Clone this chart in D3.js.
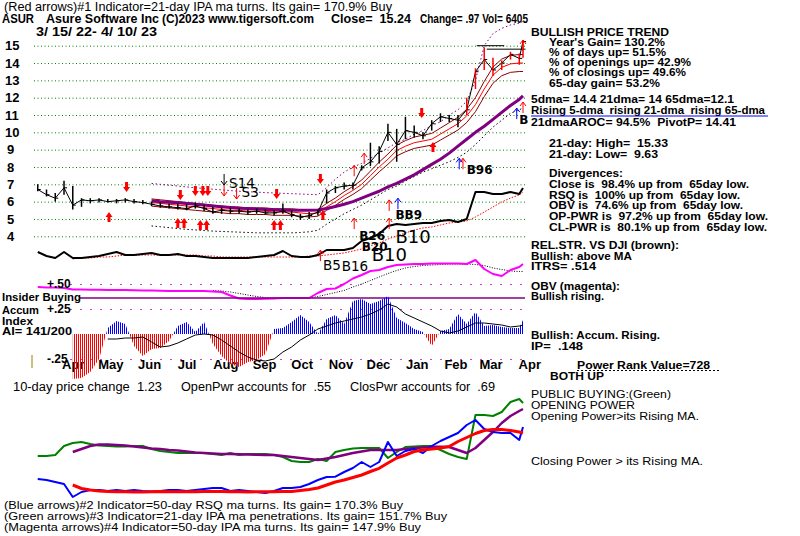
<!DOCTYPE html>
<html>
<head>
<meta charset="utf-8">
<title>ASUR - Asure Software Inc</title>
<script src="https://cdnjs.cloudflare.com/ajax/libs/d3/7.8.5/d3.min.js"></script>
<style>
  body { margin: 0; background: #fff; }
  svg { display: block; }
  text { white-space: pre; }
</style>
</head>
<body>
<script>
// ---- data (weekly samples, 3/18/22 .. 4/10/23) ----
const weekDates = d3.timeDay.range(new Date(2022, 2, 18), new Date(2023, 3, 8), 7);
weekDates.push(new Date(2023, 3, 10));

const priceClose = [6.7,6.4,6.2,6.8,5.8,6.1,6.05,6.1,6.0,6.05, 6.1,6.0,5.95,5.85,5.75,5.7,5.65,5.6,5.75,5.6,
  5.4,5.5,5.45,5.45,5.4,5.45,5.35,5.35,5.45,5.25, 5.1,5.2,5.4,6.5,6.8,6.9,6.95,7.95,8.3,8.9,
  10.0,9.3,10.1,10.0,9.8,10.5,10.9,10.8,10.7,11.3, 13.5,14.2,13.6,14.0,14.5,14.27,15.24];
const priceHigh = [7.0,6.7,6.5,7.2,6.9,6.2,6.2,6.2,6.15,6.15, 6.2,6.15,6.1,6.0,5.95,5.9,5.9,5.85,5.95,5.8,
  5.7,5.65,5.65,5.6,5.55,5.6,5.55,5.5,5.9,5.5, 5.3,5.4,5.5,6.7,6.9,7.1,7.1,8.1,9.4,9.2,
  10.5,10.2,10.9,10.4,10.0,10.7,11.1,11.0,11.0,12.0, 13.7,14.9,14.3,14.15,14.65,14.55,15.33];
const priceLow = [6.6,6.3,6.0,6.4,5.55,5.7,5.9,5.95,5.95,5.9, 5.95,5.9,5.85,5.75,5.65,5.6,5.55,5.5,5.6,5.45,
  5.3,5.3,5.3,5.3,5.25,5.3,5.25,5.2,5.3,5.1, 4.95,5.0,5.2,5.9,6.5,6.7,6.7,7.8,8.05,8.2,
  9.5,8.3,9.6,9.7,9.6,10.1,10.6,10.6,10.3,11.0, 12.5,13.6,13.25,13.6,14.2,13.9,14.3];

// moving averages / bands, starting at week 13
const ma21 = [5.95,5.9,5.85,5.8,5.75,5.7,5.65,5.6,5.55,5.5, 5.5,5.45,5.45,5.45,5.4,5.4,5.4,5.35,5.3,5.35,
  5.7,6.0,6.35,6.65,7.0,7.5,8.0,8.45,8.95,9.2, 9.4,9.5,9.6,9.9,10.2,10.5,10.95,11.6,12.5,13.3, 13.75,13.95,14.0,14.0];
const ma65 = [6.05,6.0,5.97,5.93,5.9,5.85,5.8,5.75,5.7,5.66, 5.62,5.6,5.58,5.55,5.53,5.52,5.5,5.5,5.5,5.52,
  5.6,5.72,5.85,6.0,6.2,6.4,6.6,6.85,7.05,7.3, 7.55,7.85,8.15,8.45,8.8,9.2,9.6,10.0,10.35,10.75, 11.15,11.55,11.9,12.1];
const bandUpper = [7.05,7.0,6.95,6.9,6.85,6.8,6.76,6.72,6.68,6.64, 6.6,6.57,6.55,6.52,6.5,6.48,6.46,6.44,6.42,6.4,
  6.8,7.3,7.7,8.0,8.2,8.5,8.8,9.1,9.4,9.6, 9.9,10.1,10.4,10.6,11.0,11.3,11.8,13.0,15.0,15.7, 16.0,16.2,16.3,16.4];
const bandLower = [4.6,4.55,4.5,4.45,4.4,4.37,4.33,4.3,4.28,4.26, 4.24,4.22,4.2,4.2,4.2,4.2,4.2,4.22,4.26,4.35,
  4.7,5.0,5.3,5.55,5.8,6.1,6.4,6.7,6.9,7.2, 7.45,7.7,7.9,8.1,8.3,8.55,8.85,9.3,9.8,10.3, 10.7,11.1,11.3,11.4];
const MA21_BAND = 0.035; // 21-dma envelope width

// relative strength vs DJI (from week 0) and its MA (from week 4)
const relStr = [0.83,0.79,0.77,0.83,0.77,0.77,0.78,0.79,0.81,0.83, 0.80,0.80,0.81,0.82,0.80,0.80,0.81,0.79,0.79,0.78,
  0.77,0.77,0.77,0.77,0.77,0.78,0.79,0.80,0.84,0.79, 0.78,0.78,0.80,0.85,0.85,0.85,0.87,0.94,0.97,1.01,
  1.09,1.11,1.10,1.11,1.12,1.12,1.14,1.15,1.13,1.16, 1.43,1.43,1.41,1.41,1.43,1.41,1.47];
const relStrMA = [0.76,0.77,0.77,0.78,0.78,0.79, 0.80,0.80,0.80,0.80,0.80,0.80,0.80,0.80,0.80,0.79,
  0.79,0.78,0.78,0.78,0.78,0.78,0.78,0.78,0.78,0.78, 0.78,0.79,0.79,0.80,0.81,0.82,0.84,0.86,0.89,0.92,
  0.96,0.99,1.02,1.05,1.07,1.08,1.10,1.12,1.13,1.14, 1.18,1.23,1.28,1.33,1.37,1.40,1.43];

// on-balance volume (from week 0) and its MA (from week 20)
const obv = [1.3,1.25,1.25,1.2,1.05,1.05,1.03,1.03,1.0,1.0, 1.0,0.98,0.96,0.95,0.93,0.9,0.9,0.9,0.9,0.9,
  0.85,0.8,0.45,0.15,0.1,0.1,0.12,0.15,0.2,0.2, 0.2,0.2,0.7,1.1,1.15,1.6,2.15,2.5,2.9,3.0,
  3.3,3.5,3.55,3.6,3.6,3.65,3.65,3.65,3.65,3.6, 4.0,3.1,2.6,2.4,3.0,3.3,3.6];
const obvMA = [0.95,0.9,0.8,0.65,0.5,0.35,0.25,0.2,0.15,0.15, 0.15,0.2,0.35,0.55,0.75,0.95,1.3,1.6,1.95,2.3,
  2.65,2.95,3.2,3.35,3.45,3.5,3.55,3.6,3.6,3.6, 3.55,3.45,3.2,3.05,2.9,2.85,2.85];

// accumulation index (from week 4) and its MA (from week 8)
const accum = [-0.45,-0.44,-0.38,-0.25,0.06,0.13, 0.10,-0.12,-0.22,-0.15,-0.14,-0.07,0.08,0.12,0.02,0.12,
  -0.10,-0.22,-0.30,-0.33,-0.28,-0.26,-0.20,0.05,0.06,0.12, 0.19,0.12,0.0,0.15,0.19,0.10,0.33,0.35,0.30,0.33,
  0.38,0.16,0.11,0.05,0.02,-0.12,0.03,0.05,0.20,0.10, 0.22,0.08,0.09,0.07,0.06,0.06,0.14];
const accumMA = [-0.05,-0.05, -0.04,-0.04,-0.03,-0.08,-0.13,-0.12,-0.09,-0.05,-0.01,0.0,
  -0.01,-0.06,-0.12,-0.18,-0.23,-0.26,-0.27,-0.25,-0.18,-0.13, -0.06,-0.01,0.05,0.08,0.11,0.13,0.15,0.17,0.20,0.24,
  0.30,0.27,0.20,0.16,0.12,0.08,0.03,0.01,0.03,0.07, 0.11,0.11,0.10,0.09,0.07,0.08,0.09];
const aiTicks = [0.5, 0.25, -0.25];
const aiTickLabels = ["+.50", "+.25", "-.25"];
const insiderLevel = 0.36;

// opening power (green) / closing power (blue) and their MAs (from week 4)
const openPwr = [44,44,45,54,57,58,56,54.5,54,53.5, 53.5,54,54,51,49,48,47,47,47,47,
  46,45,47,45,46,46,46,45,43,39, 38,38,41,39,48,50,51.5,52,52,52, 42,48,53,53.5,54,54,50,46,43,41, 85,85,84,88,98,101,97];
const openPwrMA = [48,51,54,55.5,55.5,55, 54.5,53.5,52.5,51.5,51,50,49.5,48.5,47.5,47,
  46.5,46,46,45.7,45.5,45.3,45,45,44,43, 42,41,40,41.5,43,45,47,48.5,50,50, 50,50,51,52,52.5,53.3,53.3,53,50,47, 52,60,68,77,84,89,91];
const closePwr = [21,20,18,16,3,8,10,10,9,10, 9,10,9,8.5,9,10,10,9,10,11,
  12,12,9,10,9,8,7,9,12,12, 13,16,20,23,23.3,28,32,38,33,38, 58,44,49,51,47,54,59,63,67,75, 80,71,68,67,67,60,73];
const closePwrMA = [15,11.5,10,9,8.5,8.3, 8.2,8.0,8.1,8.3,8.4,8.3,8.2,8.2,8.3,8.4,
  8.5,8.4,8.3,8.2,8.1,8.2,8.3,8.3,8.4,8.5, 9.5,10.5,12,15,18,20,22.5,25,28.5,31.7,
  37,42,45,48.5,50,51,52,53.5,58.5,62.5, 66.5,69.5,70.5,70.5,69.5,68,67];

const priceTicks = [4,5,6,7,8,9,10,11,12,13,14,15];
const monthTicks = ["2022-04-15","2022-05-15","2022-06-15","2022-07-15","2022-08-15","2022-09-15","2022-10-15",
  "2022-11-15","2022-12-15","2023-01-15","2023-02-15","2023-03-15","2023-04-15"];

// signal arrows and labels (date, price)
const buyArrows = [["2022-05-14",5.4],["2022-07-08",5.05],["2022-07-13",5.05],["2022-07-26",4.94],["2022-07-31",4.94],
  ["2022-09-23",4.94],["2022-09-28",4.94],["2022-11-01",5.52],["2023-01-28",9.44]];
const sellArrows = [["2022-05-28",6.56],["2022-07-10",6.1],["2022-07-22",6.33],["2022-07-28",6.33],["2022-08-01",6.33],
  ["2022-09-25",6.15],["2022-10-30",7.02],["2023-01-19",10.83]];
const redUpHints = [["2022-11-26",5.05],["2022-11-26",8.1],["2022-12-04",8.8],["2022-12-24",6.1],["2022-12-24",5.05],
  ["2023-02-21",8.5],["2023-04-10",11.75],["2023-04-10",15.33],["2022-10-30",3.2]];
const redDownHints = [["2022-08-14",6.33],["2022-08-24",6.15]];
const blueUpHints = [["2022-12-31",6.2],["2023-02-18",8.5],["2023-04-05",11.4]];
const blackDownHints = [["2022-08-14",6.96]];
const smallLabels = [["2022-11-30",3.79,"B26"],["2022-12-02",3.15,"B20"],["2022-12-29",5.0,"BB9"],
  ["2023-02-24",7.6,"B96"],["2023-04-07",10.48,"B"]];
const midLabels = [["2022-08-18",6.79,"S14"],["2022-08-28",6.27,"S3"],["2022-11-01",2.06,"B5"],["2022-11-16",2.0,"B16"]];
const bigLabels = [["2022-12-10",2.58,"B10"],["2022-12-29",3.62,"B10"]];
const resistLines = [["2023-03-04","2023-03-26",15.0],["2023-03-12","2023-04-12",14.8]];

// ---- setup ----
const W = 800, H = 536;
const FONT = "'Liberation Sans', Arial, sans-serif";
const parse = d3.timeParse("%Y-%m-%d");
const redFrom = new Date(2023, 1, 24);

const svg = d3.select("body").append("svg").attr("width", W).attr("height", H)
  .attr("font-family", FONT);
svg.append("rect").attr("width", W).attr("height", H).attr("fill", "#fff");

const x = d3.scaleTime().domain([new Date(2022, 2, 15), new Date(2023, 3, 10)]).range([34, 523]);
const yP = d3.scaleLinear().domain([4, 15]).range([236.3, 45.7]);
const yRS = d3.scaleLinear().domain([0.7, 1.5]).range([265, 185]);
const yOBV = d3.scaleLinear().domain([0, 4.5]).range([300, 255]);
const yAI = d3.scaleLinear().domain([-0.5, 0.5]).range([384, 284]);
const yPow = d3.scaleLinear().domain([0, 120]).range([500, 380]);

const series = (vals, start) => vals.map((v, i) => ({ date: weekDates[start + i], v }));

function drawLine(data, yScale, color, width, dash) {
  const p = svg.append("path").datum(data)
    .attr("d", d3.line().x(d => x(d.date)).y(d => yScale(d.v)))
    .attr("fill", "none").attr("stroke", color).attr("stroke-width", width)
    .attr("stroke-linejoin", "round");
  if (dash) p.attr("stroke-dasharray", dash);
  return p;
}

function txt(xx, yy, s, opt) {
  opt = opt || {};
  const t = svg.append("text").attr("x", xx).attr("y", yy).text(s)
    .attr("font-size", opt.size || 11.5)
    .attr("font-weight", opt.bold === false ? "normal" : "bold")
    .attr("fill", opt.fill || "#000");
  if (opt.w) t.attr("textLength", opt.w).attr("lengthAdjust", "spacingAndGlyphs");
  return t;
}

// ---- price panel ----
svg.append("g").attr("transform", "translate(34,0)")
  .call(d3.axisRight(yP).tickValues(priceTicks).tickSize(491).tickFormat(""))
  .call(g => g.select(".domain").remove())
  .call(g => g.selectAll("line").attr("stroke", "#008000").attr("stroke-dasharray", "1,2.5"));

svg.append("g")
  .call(d3.axisLeft(yP).tickValues(priceTicks).tickSize(0).tickFormat(d3.format("d")))
  .call(g => g.select(".domain").remove())
  .attr("font-family", FONT).attr("font-size", 13).attr("font-weight", "bold")
  .call(g => g.selectAll("text").attr("x", d => d >= 10 ? 5 : 7).attr("text-anchor", "start").attr("fill", "#000"));

drawLine(series(bandUpper, 13), yP, "#800080", 1, "1.5,2.5");
drawLine(series(bandLower, 13), yP, "#000", 1, "1.5,2.5");
drawLine(series(ma21.map(v => v * (1 + MA21_BAND)), 13), yP, "#8b0000", 1);
drawLine(series(ma21.map(v => v * (1 - MA21_BAND)), 13), yP, "#8b0000", 1);
drawLine(series(ma21, 13), yP, "#ff0000", 1);
drawLine(series(ma65, 13), yP, "#800080", 3);

resistLines.forEach(r => {
  svg.append("line").attr("x1", x(parse(r[0]))).attr("x2", x(parse(r[1])))
    .attr("y1", yP(r[2])).attr("y2", yP(r[2])).attr("stroke", "#000").attr("stroke-width", 1);
});

const bars = weekDates.map((d, i) => ({ date: d, hi: priceHigh[i], lo: priceLow[i], c: priceClose[i] }));
svg.append("path").datum(bars)
  .attr("d", d3.line().x(d => x(d.date)).y(d => yP(d.c)))
  .attr("fill", "none").attr("stroke", "#000").attr("stroke-width", 1);
svg.append("g").selectAll("line").data(bars).join("line")
  .attr("x1", d => x(d.date)).attr("x2", d => x(d.date))
  .attr("y1", d => yP(d.hi)).attr("y2", d => yP(d.lo))
  .attr("stroke", d => d.date >= redFrom ? "#ff0000" : "#000").attr("stroke-width", 1.5);
svg.append("g").selectAll("line").data(bars).join("line")
  .attr("x1", d => x(d.date)).attr("x2", d => x(d.date) + 3)
  .attr("y1", d => yP(d.c)).attr("y2", d => yP(d.c))
  .attr("stroke", "#000").attr("stroke-width", 1);

// relative strength
drawLine(series(relStrMA, 4), yRS, "#ff0000", 1, "1.5,1.5");
drawLine(series(relStr, 0), yRS, "#000", 2);

// OBV
drawLine(series(obvMA, 20), yOBV, "#000", 1, "1,1.5");
drawLine(series(obv, 0), yOBV, "#ff00ff", 2);

// signal arrows
function fatArrow(a, dir) {
  const xx = x(parse(a[0])), yy = yP(a[1]), s = dir === "up" ? 1 : -1;
  const pts = [[0, 0], [3.5, 5], [1.5, 5], [1.5, 10], [-1.5, 10], [-1.5, 5], [-3.5, 5]];
  svg.append("path").attr("d", "M" + pts.map(p => (xx + p[0]) + "," + (yy + s * p[1])).join("L") + "Z")
    .attr("fill", "#ff0000");
}
function thinArrow(a, dir, color) {
  const xx = x(parse(a[0])), yy = yP(a[1]), s = dir === "up" ? 1 : -1;
  svg.append("path")
    .attr("d", `M${xx},${yy}V${yy + s * 11}M${xx - 3},${yy + s * 4}L${xx},${yy}L${xx + 3},${yy + s * 4}`)
    .attr("fill", "none").attr("stroke", color).attr("stroke-width", 1);
}
buyArrows.forEach(a => fatArrow(a, "up"));
sellArrows.forEach(a => fatArrow(a, "down"));
redUpHints.forEach(a => thinArrow(a, "up", "#ff0000"));
redDownHints.forEach(a => thinArrow(a, "down", "#ff0000"));
blueUpHints.forEach(a => thinArrow(a, "up", "#0000ff"));
blackDownHints.forEach(a => thinArrow(a, "down", "#000"));

function sigLabel(a, size, weight) {
  svg.append("text").attr("x", x(parse(a[0]))).attr("y", yP(a[1])).text(a[2])
    .attr("font-family", "'DejaVu Sans', sans-serif").attr("font-size", size)
    .attr("font-weight", weight).attr("fill", "#000");
}
smallLabels.forEach(a => sigLabel(a, 12, "bold"));
midLabels.forEach(a => sigLabel(a, 13.5, "normal"));
bigLabels.forEach(a => sigLabel(a, 18, "normal"));

// ---- month axis ----
svg.append("g").attr("transform", "translate(0,356)")
  .call(d3.axisBottom(x).tickValues(monthTicks.map(parse)).tickFormat(d3.timeFormat("%b")).tickSize(0))
  .call(g => g.select(".domain").remove())
  .attr("font-family", FONT).attr("font-size", 13).attr("font-weight", "bold")
  .call(g => g.selectAll("text").attr("y", 12.5).attr("dy", 0).attr("fill", "#000"));

// ---- accumulation index panel ----
const aiLeft = x(parse("2022-04-13"));
svg.append("g").attr("transform", `translate(${aiLeft},0)`)
  .call(d3.axisRight(yAI).tickValues(aiTicks).tickSize(x.range()[1] + 2 - aiLeft).tickFormat(""))
  .call(g => g.select(".domain").remove())
  .call(g => g.selectAll("line").attr("stroke", "#c000c0").attr("stroke-dasharray", "1.5,8.5"));
svg.append("g").attr("transform", "translate(47,0)")
  .call(d3.axisLeft(yAI).tickValues(aiTicks).tickSize(0).tickFormat((d, i) => aiTickLabels[i]))
  .call(g => g.select(".domain").remove())
  .attr("font-family", FONT).attr("font-size", 12).attr("font-weight", "bold")
  .call(g => g.selectAll("text").attr("x", 0).attr("dy", "0.25em").attr("text-anchor", "start").attr("fill", "#000"));

svg.append("line").attr("x1", x(parse("2022-04-20"))).attr("x2", x.range()[1] + 2)
  .attr("y1", yAI(insiderLevel)).attr("y2", yAI(insiderLevel))
  .attr("stroke", "#800080").attr("stroke-width", 1.5);

const defs = svg.append("defs");
[["blueStripes", "#0000ff"], ["redStripes", "#ff0000"]].forEach(p => {
  defs.append("pattern").attr("id", p[0]).attr("patternUnits", "userSpaceOnUse")
    .attr("width", 2).attr("height", 10)
    .append("rect").attr("width", 1).attr("height", 10).attr("fill", p[1]);
});
defs.append("clipPath").attr("id", "aiPos").append("rect")
  .attr("x", 0).attr("y", 0).attr("width", W).attr("height", yAI(0));
defs.append("clipPath").attr("id", "aiNeg").append("rect")
  .attr("x", 0).attr("y", yAI(0)).attr("width", W).attr("height", H - yAI(0));

const aiArea = d3.area().x(d => x(d.date)).y0(yAI(0)).y1(d => yAI(d.v));
const aiData = series(accum, 4);
svg.append("path").datum(aiData).attr("d", aiArea).attr("fill", "url(#blueStripes)").attr("clip-path", "url(#aiPos)");
svg.append("path").datum(aiData).attr("d", aiArea).attr("fill", "url(#redStripes)").attr("clip-path", "url(#aiNeg)");
drawLine(series(accumMA, 8), yAI, "#000", 1);

svg.append("line").attr("x1", x.range()[0] - 2).attr("x2", x.range()[0] - 2)
  .attr("y1", yAI(-0.21)).attr("y2", yAI(-0.34)).attr("stroke", "#a08000").attr("stroke-width", 1);

// ---- opening / closing power panel ----
drawLine(series(openPwr, 0), yPow, "#008000", 2);
drawLine(series(openPwrMA, 4), yPow, "#800080", 2.5);
drawLine(series(closePwr, 0), yPow, "#0000ff", 2);
drawLine(series(closePwrMA, 4), yPow, "#ff0000", 3);

// ---- texts ----
txt(4, 11, "(Red arrows)#1 Indicator=21-day IPA ma turns. Its gain= 170.9% Buy", { size: 12, bold: false, w: 388 });
txt(2, 23, "ASUR", { size: 12, w: 32 });
txt(46, 23, "Asure Software Inc", { size: 12, w: 113 });
txt(162, 23, "(C)2023 www.tigersoft.com", { size: 12, w: 152 });
txt(331, 23, "Close=  15.24", { size: 12, w: 80 });
txt(420, 23, "Change= .97 Vol= 6405", { size: 12, w: 108 });
txt(36, 36, "3/ 15/ 22- 4/ 10/ 23", { size: 12, w: 121 });

const R1 = 531, R2 = 549;
txt(R1, 36, "BULLISH PRICE TREND", { w: 138 });
txt(R2, 46, "Year's Gain= 130.2%", { w: 116 });
txt(R2, 56, "% of days up= 51.5%", { w: 117 });
txt(R2, 65.5, "% of openings up= 42.9%", { w: 142 });
txt(R2, 76, "% of closings up= 49.6%", { w: 137 });
txt(R2, 87, "65-day gain= 53.2%", { w: 111 });
txt(R1, 102.5, "5dma= 14.4 21dma= 14 65dma=12.1", { w: 203 });
txt(R1, 113.5, "Rising 5-dma  rising 21-dma  rising 65-dma", { w: 234 });
svg.append("line").attr("x1", R1).attr("x2", 768).attr("y1", 116).attr("y2", 116)
  .attr("stroke", "#0000ff").attr("stroke-width", 1);
txt(R1, 126, "21dmaAROC= 94.5%  PivotP= 14.41", { w: 205 });
txt(R2, 147, "21-day: High=  15.33", { w: 119 });
txt(R2, 158, "21-day: Low=  9.63", { w: 109 });
txt(R2, 177, "Divergences:", { w: 74 });
txt(R2, 187.5, "Close is  98.4% up from  65day low.", { w: 200 });
txt(R2, 198.5, "RSQ is  100% up from  65day low.", { w: 191 });
txt(R2, 209, "OBV is  74.6% up from  65day low.", { w: 194 });
txt(R2, 220, "OP-PWR is  97.2% up from  65day low.", { w: 219 });
txt(R2, 231, "CL-PWR is  80.1% up from  65day low.", { w: 218 });
txt(R1, 248.5, "REL.STR. VS DJI (brown):", { w: 148 });
txt(R1, 259.5, "Bullish: above MA", { w: 101 });
txt(R1, 270, "ITRS= .514", { w: 65 });
txt(R1, 289.5, "OBV (magenta):", { w: 89 });
txt(R1, 300, "Bullish rising.", { w: 73 });
txt(R1, 339, "Bullish: Accum. Rising.", { w: 129 });
txt(R1, 349.5, "IP=  .148", { w: 52 });
txt(577, 368.5, "Power Rank Value=728", { w: 133 });
svg.append("line").attr("x1", 577).attr("x2", 720).attr("y1", 370.5).attr("y2", 370.5)
  .attr("stroke", "#000").attr("stroke-dasharray", "2,2");
txt(550, 379.5, "BOTH UP", { w: 54 });

txt(2, 301, "Insider Buying", { w: 79 });
txt(2, 313.5, "Accum", { w: 37 });
txt(2, 324.5, "Index", { w: 31 });
txt(2, 335, "AI= 141/200", { w: 70 });

txt(13, 390.5, "10-day price change  1.23", { size: 12, bold: false, w: 149 });
txt(181, 390.5, "OpenPwr accounts for  .55", { size: 12, bold: false, w: 150 });
txt(350, 390.5, "ClosPwr accounts for  .69", { size: 12, bold: false, w: 145 });
txt(531, 397.5, "PUBLIC BUYING:(Green)", { size: 11.5, bold: false, w: 140 });
txt(531, 408.5, "OPENING POWER", { size: 11.5, bold: false, w: 104 });
txt(531, 419.5, "Opening Power>its Rising MA.", { size: 11.5, bold: false, w: 168 });
txt(531, 465, "Closing Power > its Rising MA.", { size: 11.5, bold: false, w: 172 });
txt(4, 508.5, "(Blue arrows)#2 Indicator=50-day RSQ ma turns. Its gain= 170.3% Buy", { size: 11, bold: false, w: 399 });
txt(4, 519.5, "(Green arrows)#3 Indicator=21-day IPA ma penetrations. Its gain= 151.7% Buy", { size: 11, bold: false, w: 443 });
txt(4, 530.5, "(Magenta arrows)#4 Indicator=50-day IPA ma turns. Its gain= 147.9% Buy", { size: 11, bold: false, w: 417 });
</script>
</body>
</html>
